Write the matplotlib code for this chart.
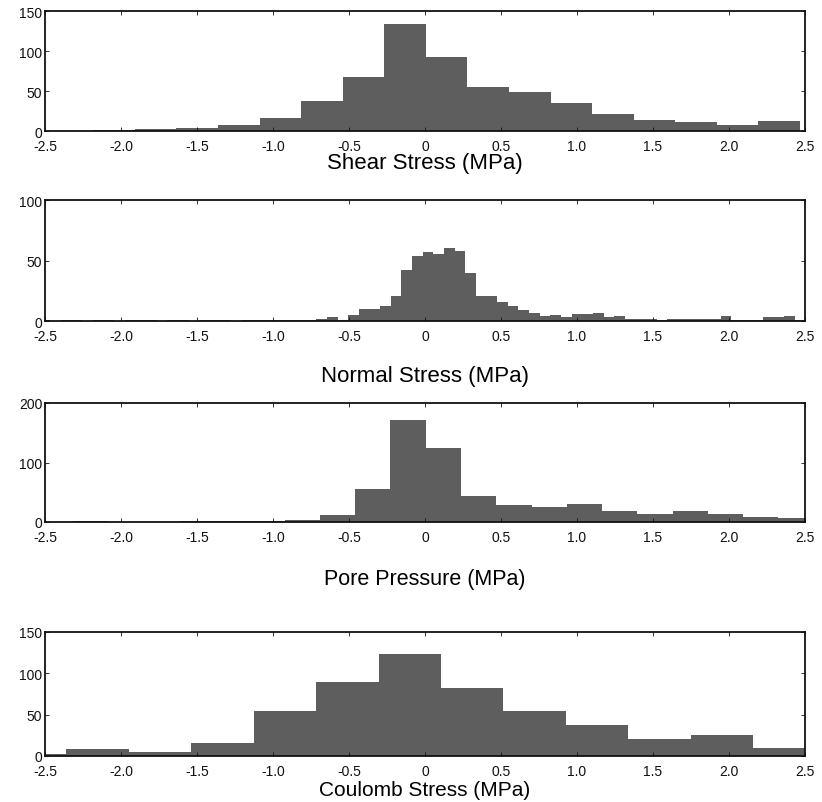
import numpy as np
import matplotlib
matplotlib.use("Agg")
import matplotlib.pyplot as plt

plt.rcParams['font.family'] = ['Liberation Sans', 'DejaVu Sans']
plt.rcParams['axes.unicode_minus'] = False

# stress change histograms (counts per bin, bins in MPa)
shear_edges = np.linspace(-2.456, 2.467, 19)
shear_counts = [0, 1, 3, 4, 7, 16, 37, 68, 134, 92, 55, 49, 35, 21, 14, 11, 8, 12]

normal_edges = np.linspace(-2.535, 2.505, 73)
normal_counts = [1, 0, 1, 1, 0, 1, 1, 0, 1, 1, 1, 0, 1, 1, 0, 1, 1, 1, 0, 1,
                 1, 1, 1, 1, 1, 1, 2, 3, 1, 5, 10, 10, 12, 21, 42, 54, 57, 55, 60, 58,
                 40, 21, 21, 16, 12, 9, 7, 4, 5, 3, 6, 6, 7, 3, 4, 2, 2, 2, 1, 2,
                 2, 2, 2, 2, 4, 1, 1, 1, 3, 3, 4, 1]

pore_edges = np.linspace(-2.547, 2.557, 23)
pore_counts = [0, 1, 0, 0, 1, 1, 2, 4, 11, 56, 172, 124, 44, 29, 26, 30, 19, 13, 18, 14, 8, 6]

coulomb_edges = np.linspace(-2.77, 2.57, 14)
coulomb_counts = [2, 8, 5, 16, 54, 90, 123, 82, 54, 37, 21, 26, 10]

xticks = [-2.5, -2.0, -1.5, -1.0, -0.5, 0, 0.5, 1.0, 1.5, 2.0, 2.5]
xtick_labels = ['-2.5', '-2.0', '-1.5', '-1.0', '-0.5', '0', '0.5', '1.0', '1.5', '2.0', '2.5']

panels = [
    (shear_edges, shear_counts, [0, 50, 100, 150], "Shear Stress (MPa)"),
    (normal_edges, normal_counts, [0, 50, 100], "Normal Stress (MPa)"),
    (pore_edges, pore_counts, [0, 100, 200], "Pore Pressure (MPa)"),
    (coulomb_edges, coulomb_counts, [0, 50, 100, 150], "Coulomb Stress (MPa)"),
]

W, H = 822, 803
fig = plt.figure(figsize=(W / 100, H / 100), dpi=100)

# (top, bottom, label centre) in pixels from the top, label size
boxes = [(12, 132, 164, 16), (201, 322, 377, 16),
         (404, 523, 580, 15.5), (633, 757, 791, 15)]
left, right = 45, 805

for (edges, counts, yticks, label), (top, bot, lab, fs) in zip(panels, boxes):
    ax = fig.add_axes([left / W, 1 - bot / H, (right - left) / W, (bot - top) / H])
    ax.bar(edges[:-1], counts, width=np.diff(edges), align='edge',
           color='#5e5e5e', linewidth=0)
    ax.set_xlim(-2.5, 2.5)
    ax.set_ylim(yticks[0], yticks[-1])
    ax.set_xticks(xticks)
    ax.set_xticklabels(xtick_labels)
    ax.set_yticks(yticks)
    ax.tick_params(direction='in', top=True, right=True, length=3, width=0.6,
                   labelsize=10, colors='#111111')
    ax.tick_params(axis='x', pad=5.5)
    ax.tick_params(axis='y', pad=2)
    for sp in ax.spines.values():
        sp.set_linewidth(1.3)
        sp.set_color('#111111')
    ax.set_xlabel(label, fontsize=fs)
    ax.xaxis.label.set_va('center')
    ax.xaxis.set_label_coords(0.5, -(lab - bot) / (bot - top))

fig.savefig("out.png", dpi=100)
